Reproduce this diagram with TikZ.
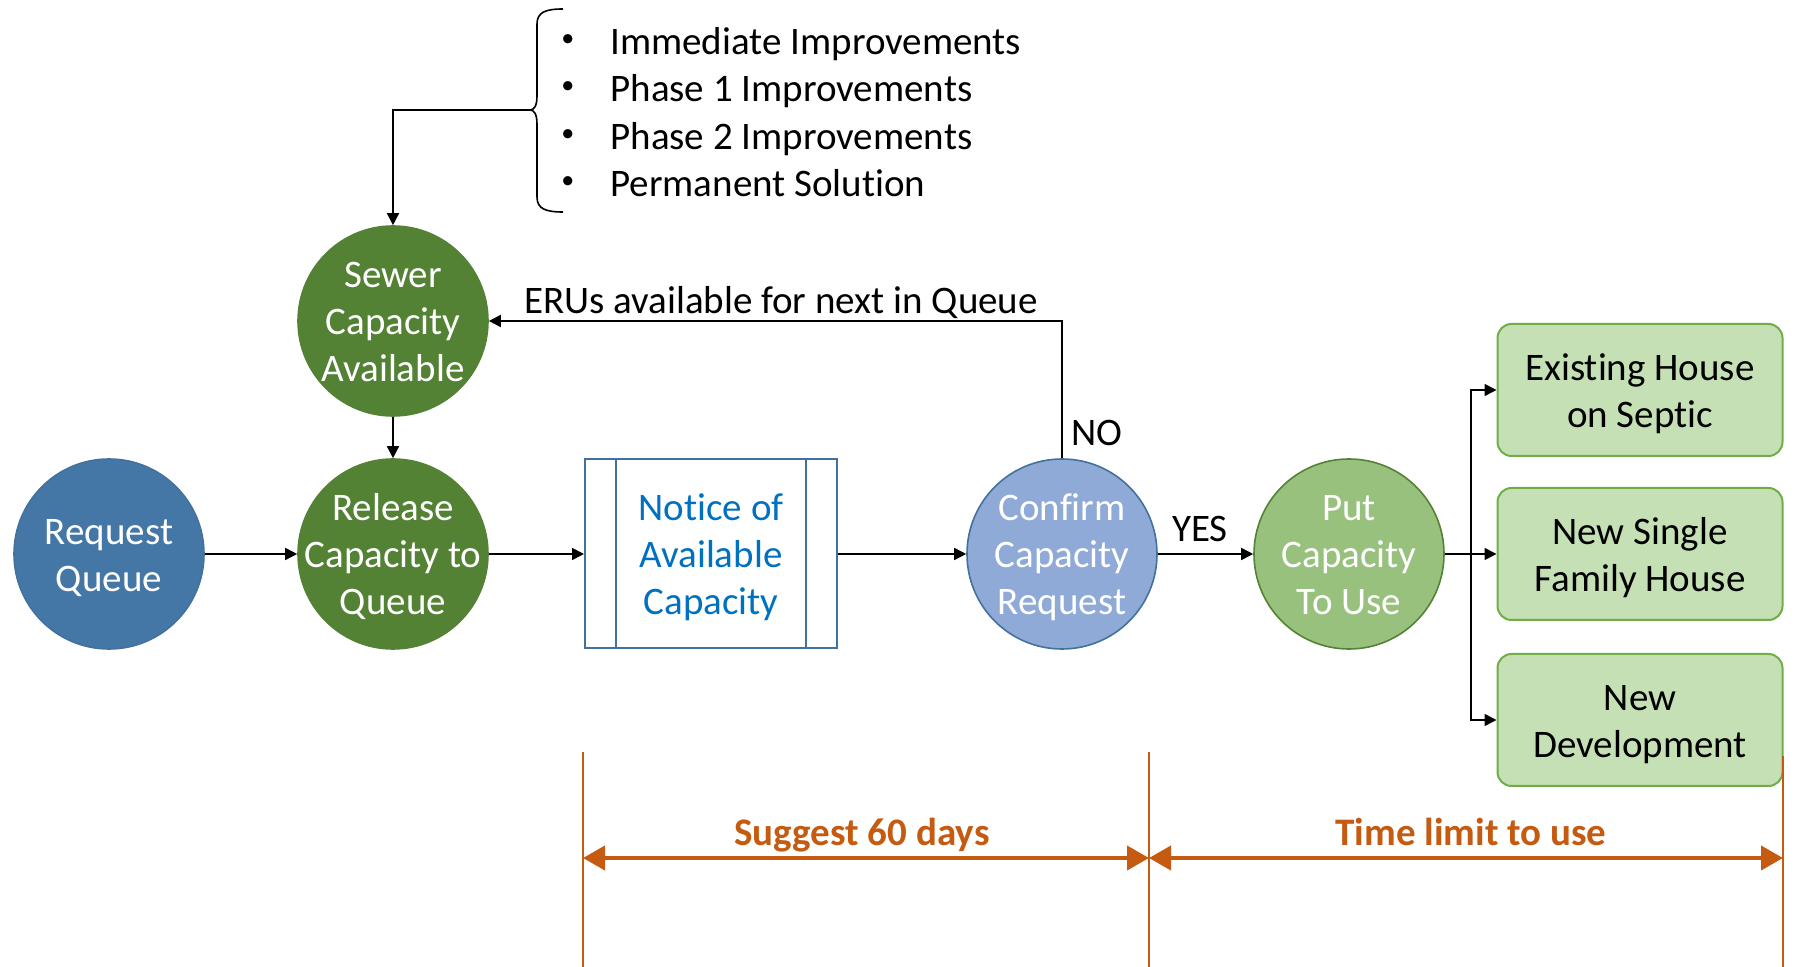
\documentclass[tikz,border=0pt]{standalone}
\usepackage{fontspec}
\setmainfont[Ligatures=NoCommon]{Carlito}
\usetikzlibrary{arrows.meta,calc}
\definecolor{rqblue}{RGB}{69,119,166}
\definecolor{rqedge}{RGB}{65,113,156}
\definecolor{dgreen}{RGB}{84,130,53}
\definecolor{lblue}{RGB}{143,170,215}
\definecolor{mgreen}{RGB}{151,193,125}
\definecolor{boxfill}{RGB}{197,224,180}
\definecolor{boxedge}{RGB}{112,173,71}
\definecolor{notetext}{RGB}{0,112,192}
\definecolor{orng}{RGB}{197,90,17}
\newcommand\topst{\rule{0pt}{20.5pt}}
\newcommand\botst{\rule[-6.6pt]{0pt}{6.6pt}}
\begin{document}
\begin{tikzpicture}[x=0.5pt,y=-0.5pt,
  txt/.style={font=\fontsize{19.5}{23.5}\selectfont, align=center},
  circ/.style={circle, minimum size=95pt, inner sep=-14pt, draw, line width=0.8pt, txt, text=white},
  greenbox/.style={rounded corners=7pt, draw=boxedge, fill=boxfill, line width=1pt,
    minimum width=142.5pt, minimum height=66pt, inner sep=0pt, txt},
  arr/.style={-{Triangle[length=6pt,width=6pt]}, line width=0.8pt},
  dimarr/.style={{Triangle[length=11pt,width=12pt]}-{Triangle[length=11pt,width=12pt]}, line width=2pt, draw=orng},
  guide/.style={draw=orng, line width=0.75pt},
  listitem/.style={txt, anchor=west, inner sep=0pt, text height=0.7em, text depth=0.2em},
  bulletitem/.style={anchor=west, inner sep=0pt, font=\fontsize{13}{15}\selectfont},
  dimlabel/.style={font=\bfseries\fontsize{19.5}{23.5}\selectfont, text=orng, text height=0.72em, text depth=0.22em}
]
\useasboundingbox (0,0) rectangle (1796,967);

% nodes
\node[circ, fill=rqblue, draw=rqedge] (rq) at (109,554) {\topst Request\\Queue\botst};
\node[circ, fill=dgreen, draw=dgreen] (rel) at (393,554) {\topst Release\\Capacity to\\Queue\botst};
\node[circ, fill=dgreen, draw=dgreen] (sewer) at (393,321) {\topst Sewer\\Capacity\\Available\botst};
\node[draw=rqedge, line width=1pt, minimum width=126pt, minimum height=94.5pt, inner sep=0pt,
      txt, text=notetext] (notice) at (711,554) {\topst Notice of\\Available\\Capacity\botst};
\draw[draw=rqedge, line width=1pt] ($(notice.north west)+(32,0)$) -- ($(notice.south west)+(32,0)$);
\draw[draw=rqedge, line width=1pt] ($(notice.north east)+(-32,0)$) -- ($(notice.south east)+(-32,0)$);
\node[circ, fill=lblue, draw=rqedge] (conf) at (1062,554) {\topst Confirm\\Capacity\\Request\botst};
\node[circ, fill=mgreen, draw=dgreen] (put) at (1349,554) {\topst Put\\Capacity\\To Use\botst};
\node[greenbox] (b1) at (1640,390) {\topst Existing House\\on Septic\botst};
\node[greenbox] (b2) at (1640,554) {\topst New Single\\Family House\botst};
\node[greenbox] (b3) at (1640,720) {\topst New\\Development\botst};

% list with brace
\node[listitem] (l1) at (610,50) {Immediate Improvements};
\node[listitem] (l2) at (610,97) {Phase 1 Improvements};
\node[listitem] (l3) at (610,145) {Phase 2 Improvements};
\node[listitem] (l4) at (610,192) {Permanent Solution};
\foreach \i/\y in {1/41,2/88,3/136,4/183}
  \node[bulletitem] (bul\i) at (561,\y) {•};
\draw[line width=0.8pt] (563,9) .. controls (546,9) and (537,12) .. (537,24) -- (537,96)
  .. controls (537,106) and (534,110) .. (530,110)
  .. controls (534,110) and (537,114) .. (537,124) -- (537,197)
  .. controls (537,209) and (546,212) .. (563,212);
\coordinate (brtip) at (530,110);

% connectors
\draw[arr] (brtip) -| (sewer.north);
\draw[arr] (sewer.south) -- (rel.north);
\draw[arr] (rq.east) -- (rel.west);
\draw[arr] (rel.east) -- (notice.west);
\draw[arr] (notice.east) -- (conf.west);
\draw[arr] (conf.east) -- (put.west);
\draw[arr] (conf.north) |- (sewer.east);
\coordinate (split) at (1471,554);
\draw[line width=0.8pt] (put.east) -- (split);
\draw[arr] (split) |- (b1.west);
\draw[arr] (split) -- (b2.west);
\draw[arr] (split) |- (b3.west);

% labels
\node[txt] (eru) at (781,303) {ERUs available for next in Queue};
\node[txt] (no) at (1097,433) {NO};
\node[txt] (yes) at (1200,529) {YES};

% timeline
\coordinate (g1t) at (583,752); \coordinate (g1b) at (583,967);
\coordinate (g2t) at (1149,752); \coordinate (g2b) at (1149,967);
\coordinate (g3t) at (1783,756); \coordinate (g3b) at (1783,967);
\draw[guide] (g1t) -- (g1b);
\draw[guide] (g2t) -- (g2b);
\draw[guide] (g3t) -- (g3b);
\coordinate (a1) at (583,858); \coordinate (a2) at (1149,858); \coordinate (a3) at (1783,858);
\draw[dimarr] (a1) -- (a2);
\draw[dimarr] (a2) -- (a3);
\node[dimlabel] (sug) at (862,841) {Suggest 60 days};
\node[dimlabel] (lim) at (1471,841) {Time limit to use};
\end{tikzpicture}
\end{document}
